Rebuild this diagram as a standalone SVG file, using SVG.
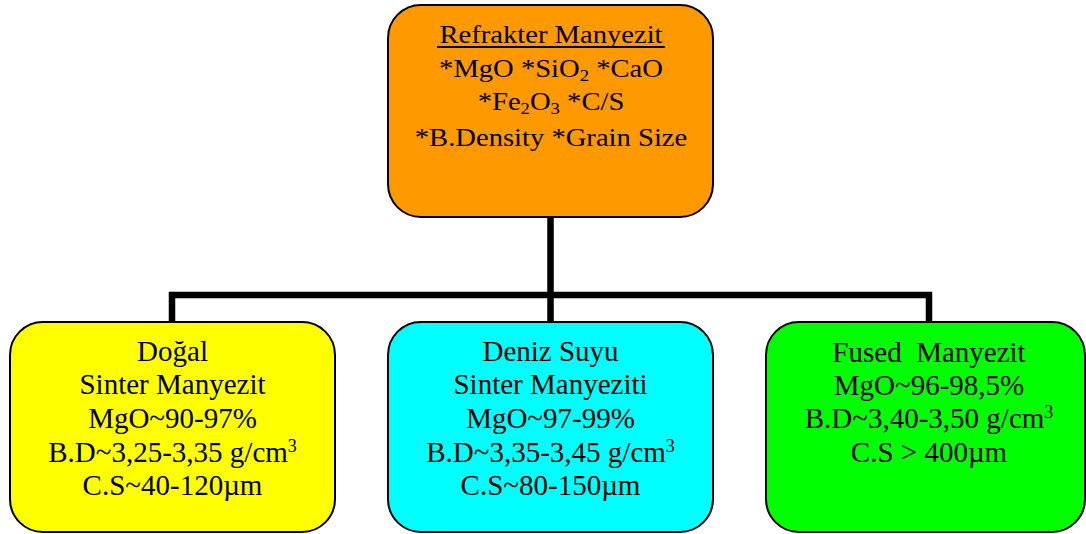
<svg xmlns="http://www.w3.org/2000/svg" width="1086" height="534" viewBox="0 0 1086 534">
  <style>
    .box { stroke: #000; stroke-width: 2; }
    .lbl { font-family: "Liberation Serif", "Times New Roman", serif; fill: #000; text-anchor: middle; }
    .top { font-size: 26px; }
    .sub { font-size: 29px; }
    .link { fill: none; stroke: #000; stroke-width: 6.5; stroke-linejoin: miter; stroke-linecap: butt; }
  </style>

  <!-- connectors: trunk from the root, bus line, and drops to each child -->
  <g id="connectors">
    <path class="link" d="M550.5 217 V295"/>
    <path class="link" d="M172 323 V295 H929 V323"/>
    <path class="link" d="M550.5 295 V323"/>
  </g>

  <!-- root node -->
  <g id="node-refrakter">
    <rect class="box" x="388" y="5" width="325" height="212" rx="33" ry="33" fill="#FF9900"/>
    <g transform="translate(551 0) scale(1.1 1)">
      <text class="lbl top" x="0" y="43">Refrakter Manyezit</text>
      <line x1="-103.5" y1="47" x2="103.5" y2="47" stroke="#000" stroke-width="2"/>
      <text class="lbl top" x="0" y="77">*MgO *SiO<tspan dy="4" font-size="17">2</tspan><tspan dy="-4"> *CaO</tspan></text>
      <text class="lbl top" x="0" y="110">*Fe<tspan dy="4" font-size="17">2</tspan><tspan dy="-4">O</tspan><tspan dy="4" font-size="17">3</tspan><tspan dy="-4"> *C/S</tspan></text>
      <text class="lbl top" x="0" y="146">*B.Density *Grain Size</text>
    </g>
  </g>

  <!-- natural sintered magnesite -->
  <g id="node-dogal">
    <rect class="box" x="10" y="322" width="325" height="210" rx="33" ry="33" fill="#FFFF00"/>
    <text class="lbl sub" x="172.5" y="361">Doğal</text>
    <text class="lbl sub" x="172.5" y="394">Sinter Manyezit</text>
    <text class="lbl sub" x="172.5" y="428">MgO~90-97%</text>
    <text class="lbl sub" x="172.5" y="462">B.D~3,25-3,35 g/cm<tspan dy="-10" font-size="18">3</tspan></text>
    <text class="lbl sub" x="172.5" y="495">C.S~40-120µm</text>
  </g>

  <!-- seawater sintered magnesite -->
  <g id="node-deniz-suyu">
    <rect class="box" x="388" y="322" width="325" height="210" rx="33" ry="33" fill="#00FFFF"/>
    <text class="lbl sub" x="550.5" y="361">Deniz Suyu</text>
    <text class="lbl sub" x="550.5" y="394">Sinter Manyeziti</text>
    <text class="lbl sub" x="550.5" y="428">MgO~97-99%</text>
    <text class="lbl sub" x="550.5" y="462">B.D~3,35-3,45 g/cm<tspan dy="-10" font-size="18">3</tspan></text>
    <text class="lbl sub" x="550.5" y="495">C.S~80-150µm</text>
  </g>

  <!-- fused magnesite -->
  <g id="node-fused">
    <rect class="box" x="766" y="322" width="319" height="210" rx="33" ry="33" fill="#00FF00"/>
    <text class="lbl sub" x="929" y="362" xml:space="preserve">Fused  Manyezit</text>
    <text class="lbl sub" x="929" y="395">MgO~96-98,5%</text>
    <text class="lbl sub" x="929" y="428">B.D~3,40-3,50 g/cm<tspan dy="-10" font-size="18">3</tspan></text>
    <text class="lbl sub" x="929" y="462">C.S &gt; 400µm</text>
  </g>
</svg>
